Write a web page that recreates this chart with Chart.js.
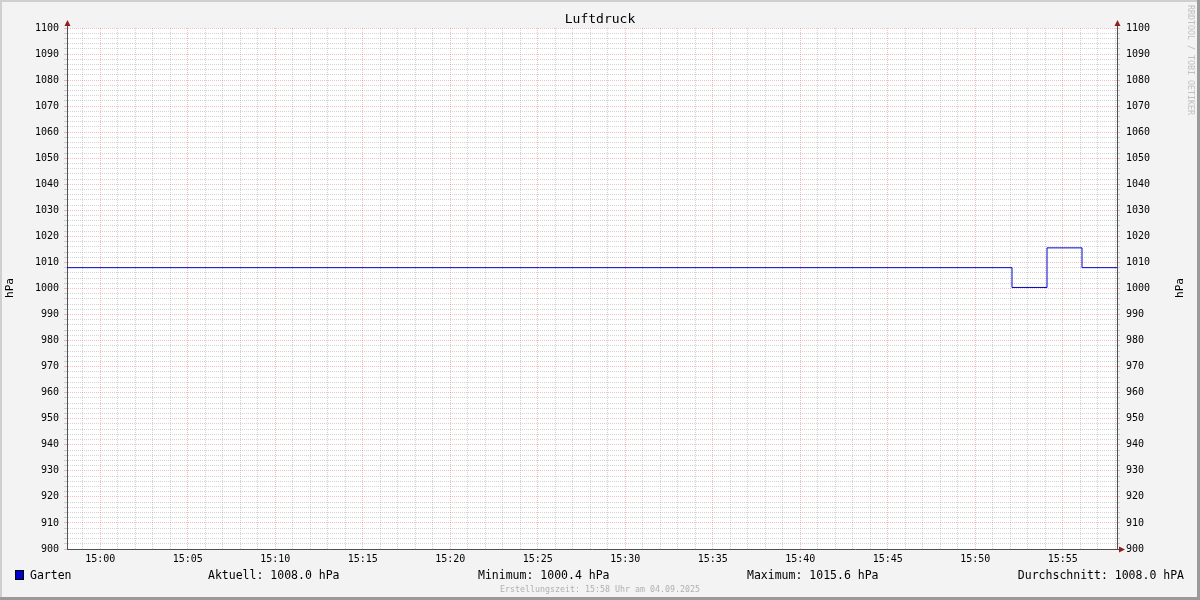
<!DOCTYPE html>
<html>
<head>
<meta charset="utf-8">
<title>Luftdruck</title>
<script src="https://cdn.jsdelivr.net/npm/chart.js"></script>
<style>
  body { margin: 0; background: #f3f3f3; }
  canvas { display: block; }
</style>
</head>
<body>
<canvas id="luftdruck" width="1200" height="600"></canvas>
<script>
// Zeit in Minuten relativ zu 15:00
const stepTimes = [-1.9, 52.1, 54.1, 56.1, 58.1];
const gartenValues = [1008.0, 1000.4, 1015.6, 1008.0, 1008.0];
const xTickLabels = ["15:00", "15:05", "15:10", "15:15", "15:20", "15:25", "15:30",
                     "15:35", "15:40", "15:45", "15:50", "15:55"];
const legendTexts = ["Aktuell: 1008.0 hPa", "Minimum: 1000.4 hPa", "Maximum: 1015.6 hPa", "Durchschnitt: 1008.0 hPA"];

const MONO = '"DejaVu Sans Mono", monospace';
const MINOR = 'rgba(150,150,150,0.42)';
const MAJOR = 'rgba(225,70,70,0.35)';
const AXIS = '#505050';
const ARROW = '#902020';

function gridColor(c) {
  return c.tick && Math.abs(c.tick.value % (c.scale.axis === 'x' ? 5 : 10)) < 1e-6 ? MAJOR : MINOR;
}

const rrdFrame = {
  id: 'rrdFrame',
  beforeDraw(chart) {
    const ctx = chart.ctx, a = chart.chartArea;
    ctx.save();
    ctx.fillStyle = '#f3f3f3';
    ctx.fillRect(0, 0, chart.width, chart.height);
    ctx.fillStyle = '#ffffff';
    ctx.fillRect(a.left, a.top, a.right - a.left, a.bottom - a.top);
    ctx.restore();
  },
  afterDraw(chart) {
    const ctx = chart.ctx, a = chart.chartArea;
    ctx.save();
    // 3D-Rahmen
    ctx.fillStyle = '#cfcfcf';
    ctx.fillRect(0, 0, chart.width, 2);
    ctx.fillRect(0, 0, 2, chart.height);
    ctx.fillStyle = '#9a9a9a';
    ctx.fillRect(0, chart.height - 3, chart.width, 3);
    ctx.fillRect(chart.width - 3, 0, 3, chart.height);

    // Pfeile
    ctx.strokeStyle = AXIS;
    ctx.lineWidth = 1;
    ctx.beginPath();
    ctx.moveTo(a.left + 0.5, 23); ctx.lineTo(a.left + 0.5, a.top);
    ctx.moveTo(a.right + 0.5, 23); ctx.lineTo(a.right + 0.5, a.top);
    ctx.moveTo(a.right, a.bottom + 0.5); ctx.lineTo(a.right + 4, a.bottom + 0.5);
    ctx.stroke();
    ctx.fillStyle = ARROW;
    [a.left + 0.5, a.right + 0.5].forEach(x => {
      ctx.beginPath();
      ctx.moveTo(x, 20); ctx.lineTo(x + 3, 26); ctx.lineTo(x - 3, 26);
      ctx.closePath(); ctx.fill();
    });
    ctx.beginPath();
    ctx.moveTo(a.right + 8, a.bottom + 0.5);
    ctx.lineTo(a.right + 2, a.bottom - 2.5);
    ctx.lineTo(a.right + 2, a.bottom + 3.5);
    ctx.closePath(); ctx.fill();

    // Titel
    ctx.fillStyle = '#000';
    ctx.textBaseline = 'middle';
    ctx.textAlign = 'center';
    ctx.font = '13px ' + MONO;
    ctx.fillText('Luftdruck', 600, 20);

    // Achsentitel
    ctx.font = '11px ' + MONO;
    [10, 1180].forEach(x => {
      ctx.save();
      ctx.translate(x, 288);
      ctx.rotate(-Math.PI / 2);
      ctx.fillText('hPa', 0, 0);
      ctx.restore();
    });

    // Legende
    const ds = chart.data.datasets[0];
    ctx.fillStyle = ds.borderColor;
    ctx.fillRect(15, 570, 9, 10);
    ctx.strokeStyle = '#000';
    ctx.strokeRect(15.5, 570.5, 8, 9);
    ctx.fillStyle = '#000';
    ctx.font = '11.5px ' + MONO;
    ctx.textAlign = 'left';
    ctx.fillText(ds.label, 30, 576);
    ctx.fillText(legendTexts[0], 208, 576);
    ctx.fillText(legendTexts[1], 478, 576);
    ctx.fillText(legendTexts[2], 747, 576);
    ctx.textAlign = 'right';
    ctx.fillText(legendTexts[3], 1184, 576);

    // Fusszeile
    ctx.textAlign = 'center';
    ctx.fillStyle = '#b0b0b0';
    ctx.font = '8.3px ' + MONO;
    ctx.fillText('Erstellungszeit: 15:58 Uhr am 04.09.2025', 600, 590);

    // Seitentext
    ctx.save();
    ctx.translate(1190, 60);
    ctx.rotate(Math.PI / 2);
    ctx.fillStyle = '#c0c0c0';
    ctx.fillText('RRDTOOL / TOBI OETIKER', 0, 0);
    ctx.restore();
    ctx.restore();
  }
};

const yTickCb = v => (v % 10 === 0 ? String(v) : '');

new Chart(document.getElementById('luftdruck'), {
  type: 'line',
  data: {
    datasets: [{
      label: 'Garten',
      data: stepTimes.map((t, i) => ({ x: t, y: gartenValues[i] })),
      borderColor: '#0000cc',
      borderWidth: 1,
      pointRadius: 0,
      stepped: true,
      fill: false
    }]
  },
  options: {
    responsive: false,
    animation: false,
    events: [],
    layout: { padding: { top: 28, left: 0, right: 0, bottom: 0 } },
    plugins: {
      legend: { display: false },
      title: { display: false },
      tooltip: { enabled: false }
    },
    scales: {
      x: {
        type: 'linear',
        min: -1.9,
        max: 58.1,
        afterFit(s) { s.height = 51; },
        afterBuildTicks(s) {
          const t = [];
          for (let m = Math.ceil(s.min); m <= s.max; m++) t.push({ value: m });
          s.ticks = t;
        },
        border: { color: AXIS, width: 1, dash: [1, 1] },
        grid: { color: gridColor, drawTicks: false },
        ticks: {
          autoSkip: false,
          maxRotation: 0,
          padding: 4,
          color: '#000',
          font: { family: MONO, size: 10 },
          callback: v => (v >= 0 && v % 5 === 0 ? xTickLabels[v / 5] : '')
        }
      },
      y: {
        position: 'left',
        min: 900,
        max: 1100,
        afterFit(s) { s.width = 67; },
        border: { color: AXIS, width: 1, dash: [1, 1] },
        grid: { color: gridColor, tickColor: gridColor, tickLength: 3 },
        ticks: {
          stepSize: 2,
          includeBounds: false,
          autoSkip: false,
          padding: 5,
          color: '#000',
          font: { family: MONO, size: 10 },
          callback: yTickCb
        }
      },
      y2: {
        position: 'right',
        min: 900,
        max: 1100,
        afterFit(s) { s.width = 83; },
        border: { color: AXIS, width: 1 },
        grid: { drawOnChartArea: false, tickColor: gridColor, tickLength: 3 },
        ticks: {
          stepSize: 2,
          includeBounds: false,
          autoSkip: false,
          padding: 6,
          color: '#000',
          font: { family: MONO, size: 10 },
          callback: yTickCb
        }
      }
    }
  },
  plugins: [rrdFrame]
});
</script>
</body>
</html>
